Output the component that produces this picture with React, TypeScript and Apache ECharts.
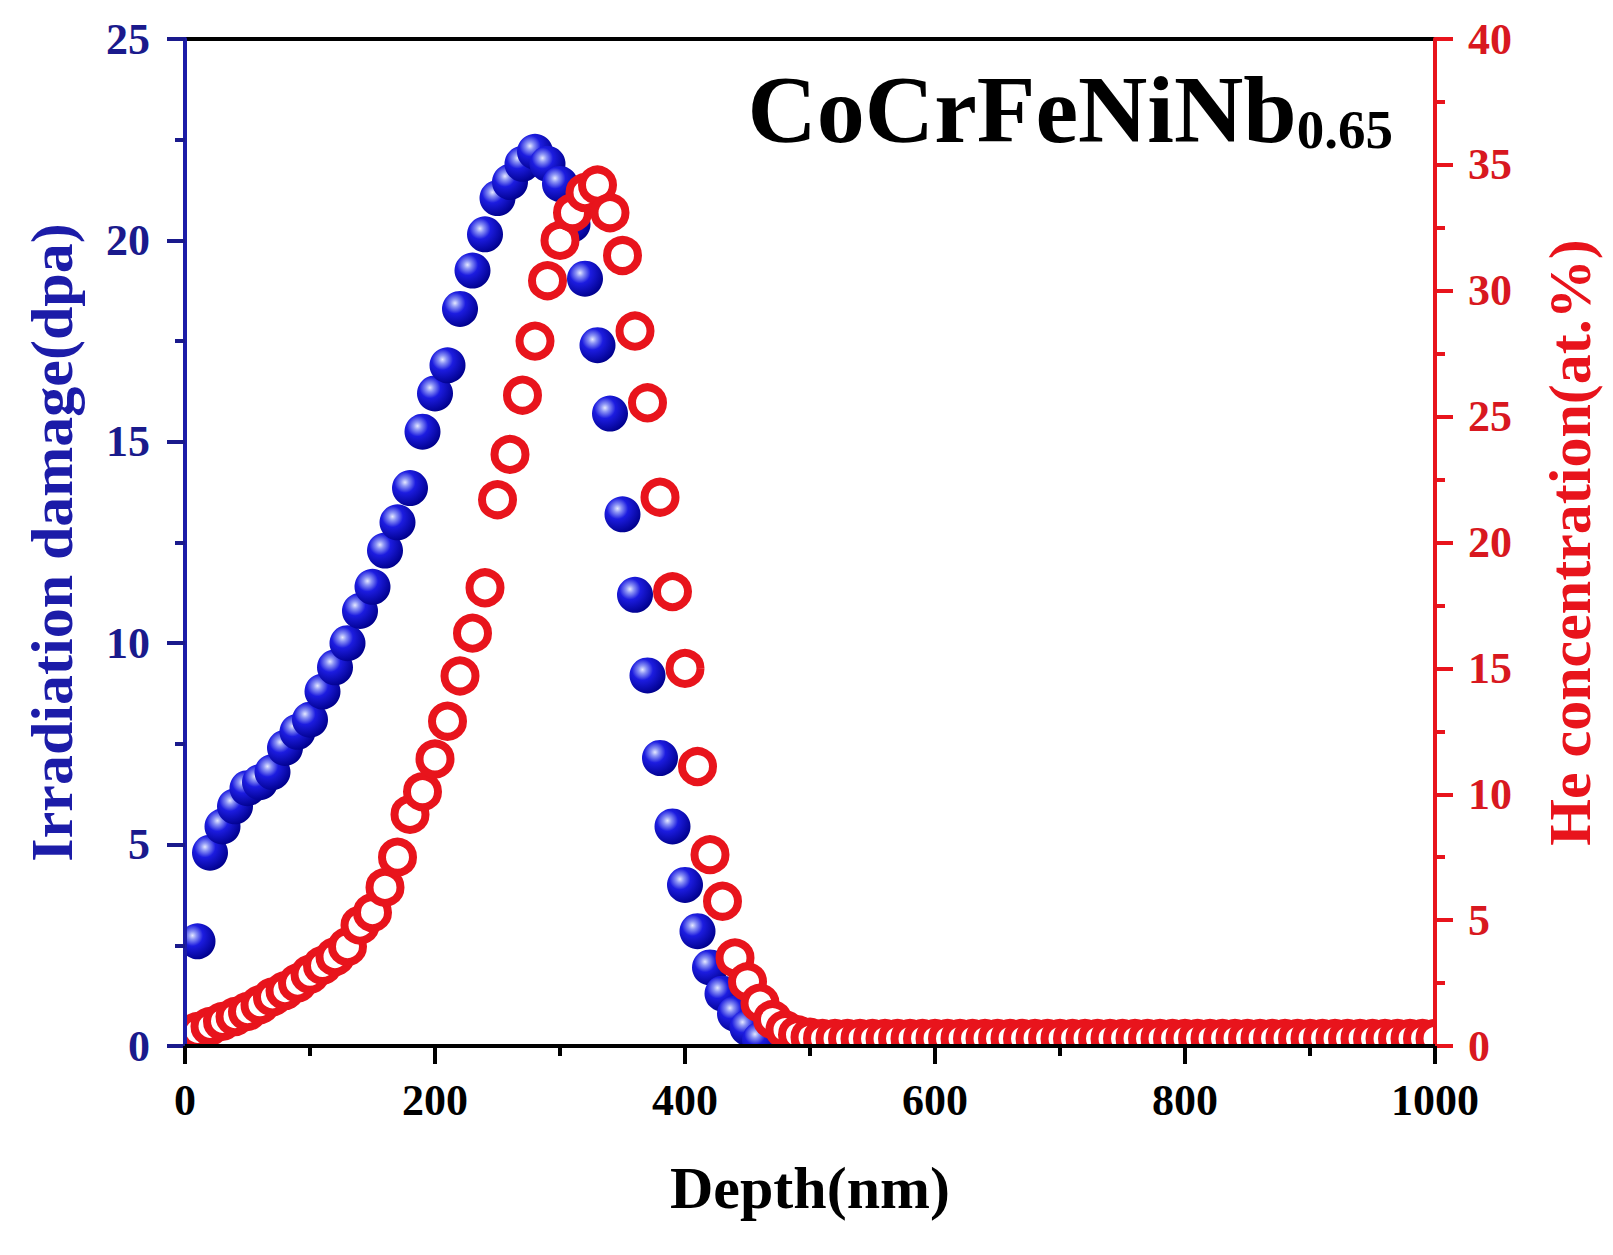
import React, { useEffect, useRef } from "react";
import * as echarts from "echarts";

const depthDamage = [10, 20, 30, 40, 50, 60, 70, 80, 90, 100, 110, 120, 130, 140, 150, 160, 170, 180, 190, 200, 210, 220, 230, 240, 250, 260, 270, 280, 290, 300, 310, 320, 330, 340, 350, 360, 370, 380, 390, 400, 410, 420, 430, 440, 450, 460];
const damageDpa = [2.6, 4.8, 5.45, 5.95, 6.4, 6.55, 6.8, 7.4, 7.8, 8.1, 8.8, 9.4, 10.0, 10.8, 11.4, 12.3, 13.0, 13.85, 15.25, 16.2, 16.9, 18.3, 19.25, 20.15, 21.05, 21.45, 21.9, 22.2, 21.9, 21.4, 20.4, 19.05, 17.4, 15.7, 13.2, 11.2, 9.2, 7.15, 5.45, 4.0, 2.85, 1.95, 1.3, 0.8, 0.45, 0.15];

const depthHe = [10, 20, 30, 40, 50, 60, 70, 80, 90, 100, 110, 120, 130, 140, 150, 160, 170, 180, 190, 200, 210, 220, 230, 240, 250, 260, 270, 280, 290, 300, 310, 320, 330, 340, 350, 360, 370, 380, 390, 400, 410, 420, 430, 440, 450, 460, 470, 480, 490, 500, 510, 520, 530, 540, 550, 560, 570, 580, 590, 600, 610, 620, 630, 640, 650, 660, 670, 680, 690, 700, 710, 720, 730, 740, 750, 760, 770, 780, 790, 800, 810, 820, 830, 840, 850, 860, 870, 880, 890, 900, 910, 920, 930, 940, 950, 960, 970, 980, 990, 1000];
const heConc = [0.58, 0.78, 0.98, 1.17, 1.37, 1.64, 1.95, 2.2, 2.5, 2.85, 3.2, 3.55, 3.95, 4.8, 5.3, 6.3, 7.5, 9.2, 10.1, 11.4, 12.9, 14.7, 16.4, 18.2, 21.7, 23.5, 25.85, 28.0, 30.4, 32.0, 33.1, 33.9, 34.2, 33.1, 31.4, 28.4, 25.55, 21.8, 18.05, 15.0, 11.1, 7.6, 5.75, 3.5, 2.55, 1.7, 1.05, 0.65, 0.45, 0.35, 0.3, 0.3, 0.3, 0.3, 0.3, 0.3, 0.3, 0.3, 0.3, 0.3, 0.3, 0.3, 0.3, 0.3, 0.3, 0.3, 0.3, 0.3, 0.3, 0.3, 0.3, 0.3, 0.3, 0.3, 0.3, 0.3, 0.3, 0.3, 0.3, 0.3, 0.3, 0.3, 0.3, 0.3, 0.3, 0.3, 0.3, 0.3, 0.3, 0.3, 0.3, 0.3, 0.3, 0.3, 0.3, 0.3, 0.3, 0.3, 0.3, 0.3];

const FONT = "'Liberation Serif', 'Times New Roman', serif";
const BLUE = "#1c1ca8";
const BLUE_TXT = "#1a1a8c";
const RED = "#e8141c";
const RED_TXT = "#d81820";

const GRID = { left: 185, top: 39, width: 1250, height: 1007 };

export default function App() {
  const ref = useRef<HTMLDivElement>(null);
  useEffect(() => {
    if (!ref.current) return;
    const chart = echarts.init(ref.current, null, { renderer: "svg" });
    const ball = new echarts.graphic.RadialGradient(0.36, 0.34, 0.7, [
      { offset: 0, color: "#e4e8ff" },
      { offset: 0.16, color: "#8a92f4" },
      { offset: 0.42, color: "#1c1ce0" },
      { offset: 1, color: "#00008c" },
    ]);
    const bottom = GRID.top + GRID.height;
    const rightX = GRID.left + GRID.width;
    const plain = (v: number) => String(v);
    chart.setOption({
      animation: false,
      backgroundColor: "#ffffff",
      title: {
        text: "{a|CoCrFeNiNb}{b|0.65}",
        right: 215,
        top: 42,
        padding: 5,
        textStyle: {
          rich: {
            a: { fontSize: 96, fontWeight: "bold", fontFamily: FONT, color: "#000", lineHeight: 110, verticalAlign: "bottom" },
            b: { fontSize: 55, fontWeight: "bold", fontFamily: FONT, color: "#000", lineHeight: 30, verticalAlign: "bottom" },
          },
        },
      },
      grid: { ...GRID, show: true, borderColor: "#000", borderWidth: 4, backgroundColor: "transparent" },
      xAxis: {
        type: "value",
        min: 0,
        max: 1000,
        interval: 200,
        z: 10,
        name: "Depth(nm)",
        nameLocation: "middle",
        nameGap: 112,
        nameTextStyle: { fontSize: 60, fontWeight: "bold", fontFamily: FONT, color: "#000" },
        axisLine: { lineStyle: { color: "#000", width: 4 } },
        axisTick: { length: 18, lineStyle: { color: "#000", width: 4 } },
        minorTick: { show: true, splitNumber: 2, length: 10, lineStyle: { color: "#000", width: 4 } },
        axisLabel: { margin: 32, fontSize: 44, fontWeight: "bold", fontFamily: FONT, color: "#000", formatter: plain },
        splitLine: { show: false },
      },
      yAxis: [
        {
          type: "value",
          min: 0,
          max: 25,
          interval: 5,
          position: "left",
          z: 10,
          name: "Irradiation damage(dpa)",
          nameLocation: "middle",
          nameRotate: 90,
          nameGap: 103,
          nameTextStyle: { fontSize: 60, fontWeight: "bold", fontFamily: FONT, color: BLUE },
          axisLine: { show: true, lineStyle: { color: BLUE, width: 4 } },
          axisTick: { show: true, length: 18, lineStyle: { color: BLUE_TXT, width: 4 } },
          minorTick: { show: true, splitNumber: 2, length: 10, lineStyle: { color: BLUE_TXT, width: 4 } },
          axisLabel: { margin: 35, fontSize: 44, fontWeight: "bold", fontFamily: FONT, color: BLUE_TXT, formatter: plain },
          splitLine: { show: false },
        },
        {
          type: "value",
          min: 0,
          max: 40,
          interval: 5,
          position: "right",
          z: 10,
          name: "He concentration(at.%)",
          nameLocation: "middle",
          nameRotate: 90,
          nameGap: 105,
          nameTextStyle: { fontSize: 60, fontWeight: "bold", fontFamily: FONT, color: RED },
          axisLine: { show: true, lineStyle: { color: RED, width: 4 } },
          axisTick: { show: true, length: 18, lineStyle: { color: RED, width: 4 } },
          minorTick: { show: true, splitNumber: 2, length: 10, lineStyle: { color: RED, width: 4 } },
          axisLabel: { margin: 33, fontSize: 44, fontWeight: "bold", fontFamily: FONT, color: RED_TXT, formatter: plain },
          splitLine: { show: false },
        },
      ],
      graphic: {
        elements: [
          { type: "rect", z: 5, silent: true, shape: { x: 100, y: bottom + 2, width: 1450, height: 26 }, style: { fill: "#fff" } },
          { type: "rect", z: 5, silent: true, shape: { x: 140, y: 0, width: GRID.left - 2 - 140, height: bottom + 30 }, style: { fill: "#fff" } },
          { type: "rect", z: 5, silent: true, shape: { x: rightX + 2, y: 0, width: 36, height: bottom + 30 }, style: { fill: "#fff" } },
        ],
      },
      series: [
        {
          type: "scatter",
          yAxisIndex: 0,
          symbol: "circle",
          symbolSize: 36,
          data: depthDamage.map((d, i) => [d, damageDpa[i]]),
          itemStyle: { color: ball, opacity: 1 },
        },
        {
          type: "scatter",
          yAxisIndex: 1,
          symbol: "circle",
          symbolSize: 31,
          data: depthHe.map((d, i) => [d, heConc[i]]),
          itemStyle: { color: "#ffffff", borderColor: RED, borderWidth: 8, opacity: 1 },
        },
      ],
    });
    return () => chart.dispose();
  }, []);
  return <div ref={ref} style={{ position: "absolute", left: 0, top: 0, width: 1613, height: 1255 }} />;
}
